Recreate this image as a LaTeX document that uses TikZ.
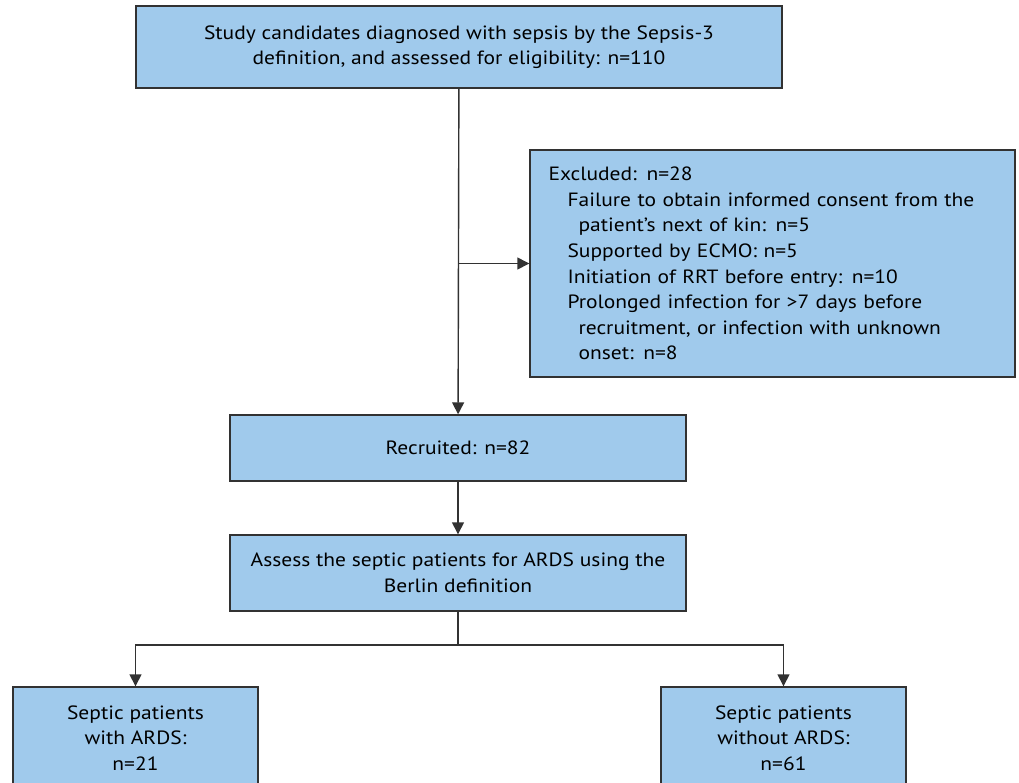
\documentclass[tikz,border=0pt]{standalone}
\usepackage{fontspec}
\setmainfont{PT Sans}[FakeStretch=1.12]
\usetikzlibrary{arrows.meta}
\definecolor{boxblue}{RGB}{160,202,236}
\definecolor{linegray}{RGB}{50,50,50}
\tikzstyle{box} = [rectangle, inner sep=0pt, align=center, draw=linegray, line width=0.7pt, fill=boxblue, font=\fontsize{9.6}{12.8}\selectfont]
\tikzstyle{arrow} = [draw=linegray, line width=0.7pt, -{Triangle[length=6pt,width=6pt]}]
\tikzstyle{line} = [draw=linegray, line width=0.7pt]

\begin{document}
\begin{tikzpicture}[x=0.5pt, y=-0.5pt]
      \clip (0,0) rectangle (1019,783);

      \node (start) [box, minimum width=323pt, minimum height=41pt] at (459,47) {Study candidates diagnosed with sepsis by the Sepsis-3\\ definition, and assessed for eligibility: n=110};
      \node (exclude) [box, minimum width=242.5pt, minimum height=113.5pt, text width=224pt, align=left] at (772.5,263.5) {Excluded: n=28\\
        \hspace*{9.5pt}Failure to obtain informed consent from the\\
        \hspace*{15pt}patient's next of kin: n=5\\
        \hspace*{9.5pt}Supported by ECMO: n=5\\
        \hspace*{9.5pt}Initiation of RRT before entry: n=10\\
        \hspace*{9.5pt}Prolonged infection for >7 days before\\
        \hspace*{15pt}recruitment, or infection with unknown\\
        \hspace*{15pt}onset: n=8};
      \node (recruited) [box, minimum width=228pt, minimum height=33pt] at (458,448) {Recruited: n=82};
      \node (assess) [box, minimum width=228pt, minimum height=38pt] at (458,573) {Assess the septic patients for ARDS using the\\ Berlin definition};
      \node (ards) [box, minimum width=122.5pt, minimum height=51pt] at (135.5,738) {Septic patients\\ with ARDS:\\ n=21};
      \node (nonards) [box, minimum width=122.5pt, minimum height=51pt] at (783.5,738) {Septic patients\\ without ARDS:\\ n=61};
      \coordinate (split) at (458,645);

      % Arrows
      \draw [arrow] (start) -- (recruited);
      \draw [arrow] (start.south |- exclude.west) -- (exclude.west);
      \draw [arrow] (recruited) -- (assess);
      \draw [line] (assess) -- (split);
      \draw [arrow] (split) -| (ards);
      \draw [arrow] (split) -| (nonards);

\end{tikzpicture}
\end{document}
